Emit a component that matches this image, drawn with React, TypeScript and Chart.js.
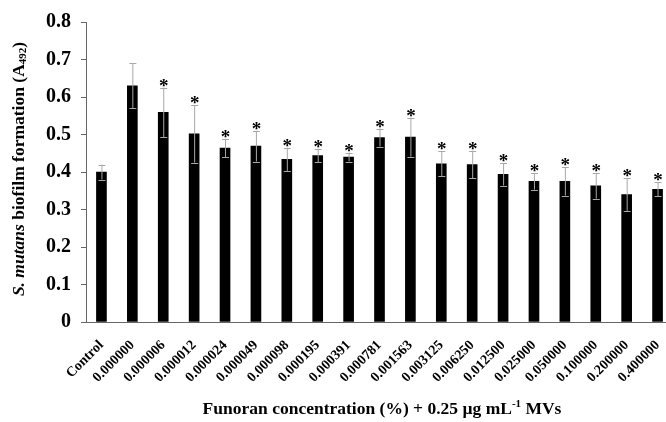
import React, { useEffect, useRef } from "react";
import { Chart, registerables } from "chart.js";

Chart.register(...registerables);

const categories = [
  "Control", "0.000000", "0.000006", "0.000012", "0.000024", "0.000049", "0.000098",
  "0.000195", "0.000391", "0.000781", "0.001563", "0.003125", "0.006250", "0.012500",
  "0.025000", "0.050000", "0.100000", "0.200000", "0.400000",
];
const means = [0.40, 0.63, 0.559, 0.502, 0.464, 0.469, 0.434, 0.444, 0.440, 0.492, 0.493, 0.422, 0.420, 0.394, 0.375, 0.375, 0.363, 0.340, 0.354];
const errors = [0.02, 0.06, 0.066, 0.077, 0.025, 0.041, 0.031, 0.018, 0.012, 0.024, 0.052, 0.033, 0.037, 0.030, 0.022, 0.038, 0.034, 0.044, 0.019];
const significant = [false, false, true, true, true, true, true, true, true, true, true, true, true, true, true, true, true, true, true];

const FONT = "'Liberation Serif', 'Times New Roman', serif";

type Seg = { t: string; font: string; dy?: number };

function drawSegs(ctx: CanvasRenderingContext2D, segs: Seg[], cx: number, cy: number) {
  let total = 0;
  for (const s of segs) { ctx.font = s.font; total += ctx.measureText(s.t).width; }
  let x = cx - total / 2;
  for (const s of segs) {
    ctx.font = s.font;
    ctx.fillText(s.t, x, cy + (s.dy || 0));
    x += ctx.measureText(s.t).width;
  }
}

const errorPlugin = {
  id: "errorBarsAndTitles",
  afterDatasetsDraw(chart: any) {
    const ctx = chart.ctx as CanvasRenderingContext2D;
    const meta = chart.getDatasetMeta(0);
    const ys = chart.scales.y;
    ctx.save();
    meta.data.forEach((el: any, i: number) => {
      const x = el.x;
      const top = ys.getPixelForValue(means[i] + errors[i]);
      const bot = ys.getPixelForValue(means[i] - errors[i]);
      ctx.strokeStyle = "#a8a8a8";
      ctx.lineWidth = 1;
      ctx.beginPath();
      ctx.moveTo(x + 0.5, top);
      ctx.lineTo(x + 0.5, bot);
      ctx.moveTo(x - 3, Math.round(top) + 0.5);
      ctx.lineTo(x + 4, Math.round(top) + 0.5);
      ctx.moveTo(x - 3, Math.round(bot) + 0.5);
      ctx.lineTo(x + 4, Math.round(bot) + 0.5);
      ctx.stroke();
      if (significant[i]) {
        ctx.fillStyle = "#000";
        ctx.font = `bold 19px ${FONT}`;
        ctx.textAlign = "center";
        ctx.textBaseline = "alphabetic";
        ctx.fillText("*", x + 0.5, top + 4);
      }
    });
    ctx.restore();
  },
  afterDraw(chart: any) {
    const ctx = chart.ctx as CanvasRenderingContext2D;
    ctx.save();
    ctx.fillStyle = "#000";
    ctx.textAlign = "left";
    ctx.textBaseline = "middle";
    // x title
    drawSegs(ctx, [
      { t: "Funoran concentration (%) + 0.25 \u00b5g mL", font: `bold 17.5px ${FONT}` },
      { t: "-1", font: `bold 11px ${FONT}`, dy: -5 },
      { t: " MVs", font: `bold 17.5px ${FONT}` },
    ], 382, 409);
    // y title
    ctx.translate(19, 169);
    ctx.rotate(-Math.PI / 2);
    drawSegs(ctx, [
      { t: "S. mutans", font: `italic bold 17.5px ${FONT}` },
      { t: " biofilm formation (A", font: `bold 17.5px ${FONT}` },
      { t: "492", font: `bold 11px ${FONT}`, dy: 4 },
      { t: ")", font: `bold 17.5px ${FONT}` },
    ], 0, 0);
    ctx.restore();
  },
};

export default function App() {
  const ref = useRef<HTMLCanvasElement>(null);
  useEffect(() => {
    if (!ref.current) return;
    const chart = new Chart(ref.current, {
      type: "bar",
      data: {
        labels: categories,
        datasets: [{
          data: means,
          backgroundColor: "#000",
          borderWidth: 0,
          barThickness: 10,
        }],
      },
      options: {
        animation: false,
        responsive: false,
        devicePixelRatio: 1,
        layout: { padding: { top: 17, right: 7, bottom: 0, left: 0 } },
        plugins: { legend: { display: false }, tooltip: { enabled: false } },
        scales: {
          x: {
            offset: true,
            grid: { display: false },
            border: { display: true, color: "#666", width: 1 },
            ticks: {
              autoSkip: false,
              minRotation: 45,
              maxRotation: 45,
              padding: 7,
              color: "#000",
              font: { family: FONT, size: 14, weight: "bold" },
            },
            afterFit: (s: any) => { s.height = 100; },
          },
          y: {
            min: 0,
            max: 0.8,
            grid: { display: true, drawOnChartArea: false, drawTicks: true, tickLength: 5, color: "#666" },
            border: { display: true, color: "#666", width: 1 },
            ticks: {
              stepSize: 0.1,
              padding: 10,
              color: "#000",
              font: { family: FONT, size: 20, weight: "bold" },
              callback: (v: any) => (Number(v) === 0 ? "0" : Number(v).toFixed(1)),
            },
            afterFit: (s: any) => { s.width = 86; },
          },
        },
      },
      plugins: [errorPlugin],
    } as any);
    return () => chart.destroy();
  }, []);
  return (
    <div style={{ position: "fixed", left: 0, top: 0, width: 666, height: 422, overflow: "hidden", background: "#fff" }}>
      <canvas ref={ref} width={680} height={422} style={{ display: "block" }} />
    </div>
  );
}
